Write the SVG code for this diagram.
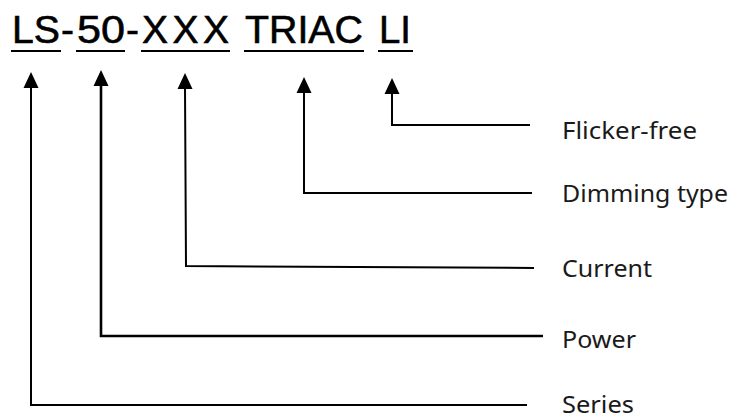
<svg xmlns="http://www.w3.org/2000/svg" width="732" height="420" viewBox="0 0 732 420">
<style>
.t{font-family:"Liberation Sans",Arial,sans-serif;font-size:39px;fill:#000;stroke:#000;stroke-width:0.6}
.u{stroke:#000;stroke-width:2.2}
.c{fill:none;stroke:#000;stroke-width:2}
.l{font-family:"Noto Sans","Liberation Sans",sans-serif;font-size:23px;fill:#1a1a1a}
</style>
<g id="code">
<text class="t" x="12" y="43" textLength="48" lengthAdjust="spacingAndGlyphs">LS</text>
<text class="t" x="61" y="43" textLength="13" lengthAdjust="spacingAndGlyphs">-</text>
<text class="t" x="77" y="43" textLength="48" lengthAdjust="spacingAndGlyphs">50</text>
<text class="t" x="126" y="43" textLength="13" lengthAdjust="spacingAndGlyphs">-</text>
<text class="t" x="142" y="43" textLength="87" lengthAdjust="spacing">XXX</text>
<text class="t" x="245" y="43" textLength="118" lengthAdjust="spacingAndGlyphs">TRIAC</text>
<text class="t" x="379" y="43" textLength="32" lengthAdjust="spacingAndGlyphs">LI</text>
<line class="u" x1="11" y1="51" x2="61" y2="51"/>
<line class="u" x1="76" y1="51" x2="125" y2="51"/>
<line class="u" x1="141" y1="51" x2="230" y2="51"/>
<line class="u" x1="244" y1="51" x2="364" y2="51"/>
<line class="u" x1="378" y1="51" x2="413" y2="51"/>
</g>
<g id="connectors">
<polyline class="c" points="527,405 31,405 31,86"/>
<polygon points="31,72 23.5,88 38.5,88"/>
<polyline class="c" points="543,336 101,336 101,84" style="stroke-width:2.6"/>
<polygon points="101,70 93.5,86 108.5,86"/>
<polyline class="c" points="534,268 186,266 185,87"/>
<polygon points="185,73 177.5,89 192.5,89"/>
<polyline class="c" points="532,193 304,193 304,91"/>
<polygon points="304,77 296.5,93 311.5,93"/>
<polyline class="c" points="530,125 392,125 392,92"/>
<polygon points="392,78 384.5,94 399.5,94"/>
</g>
<g id="label-flicker"><text class="l" x="562" y="139" textLength="135" lengthAdjust="spacingAndGlyphs">Flicker-free</text></g>
<g id="label-dimming"><text class="l" x="562" y="202" textLength="166" lengthAdjust="spacingAndGlyphs">Dimming type</text></g>
<g id="label-current"><text class="l" x="562" y="277" textLength="90" lengthAdjust="spacingAndGlyphs">Current</text></g>
<g id="label-power"><text class="l" x="562" y="348" textLength="74" lengthAdjust="spacingAndGlyphs">Power</text></g>
<g id="label-series"><text class="l" x="562" y="413" textLength="72" lengthAdjust="spacingAndGlyphs">Series</text></g>
</svg>
